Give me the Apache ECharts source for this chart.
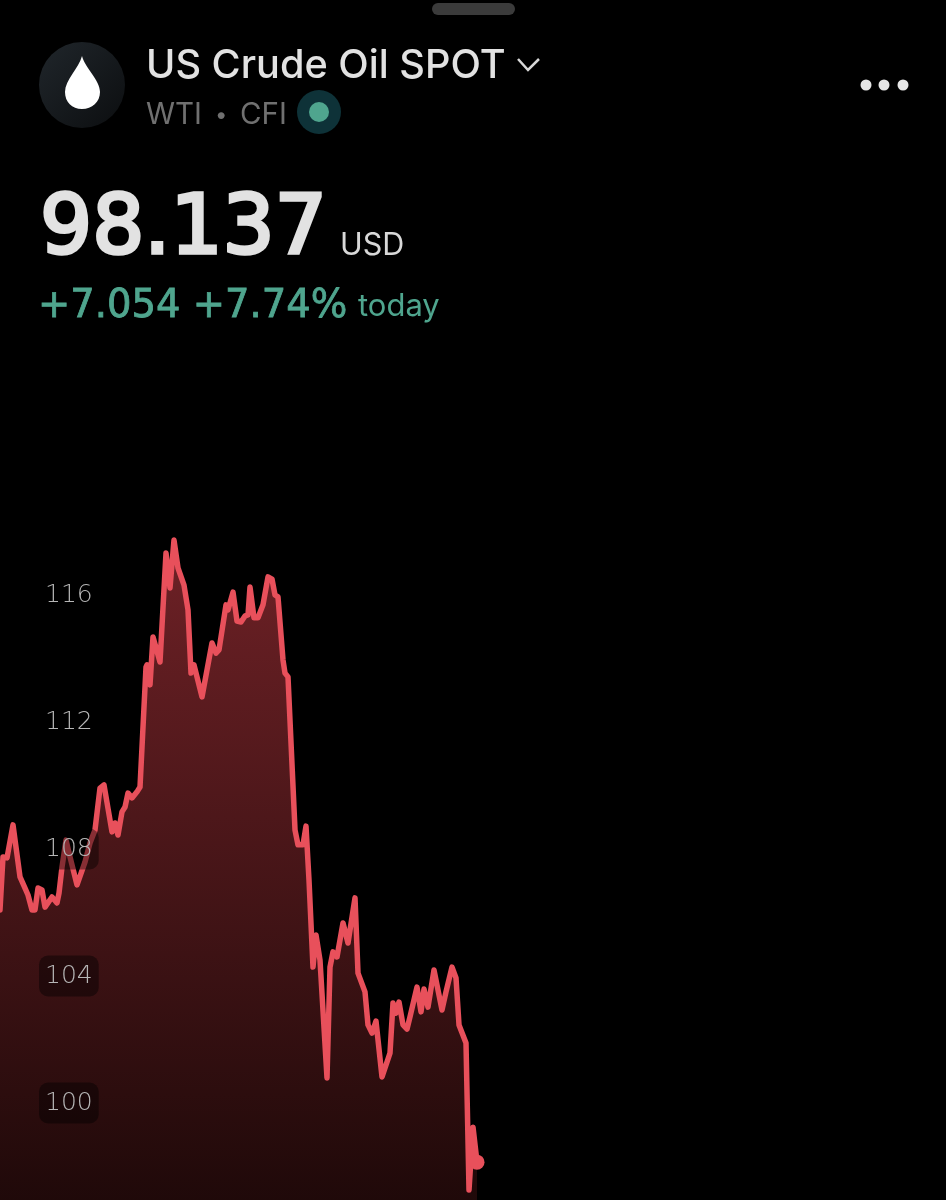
<!DOCTYPE html>
<html><head><meta charset="utf-8">
<style>html,body{margin:0;padding:0;background:#000}#c{width:946px;height:1200px}</style>
<script src="https://cdn.jsdelivr.net/npm/echarts@6/dist/echarts.min.js"></script>
</head><body><div id="c"></div>
<script>
const elapsed = [0,3,7,13,20,25,28,32,35,38,42,45,52,57,59,62,66,70,77,85,90,95,100,104,112,115,118,122,125,128,132,137,140,146,147,150,153,160,166,170,174,178,184,188,191,194,202,212,216,219,226,228,233,237,241,245,248,250,254,258,263,268,272,275,278,283,285,288,295,298,303,306,309,313,316,320,327,330,333,337,343,348,355,358,365,368,372,376,382,390,393,396,399,403,407,410,417,421,424,428,434,442,446,452,456,459,466,469,473,477];
const prices = [106.08,107.75,107.72,108.76,107.12,106.77,106.55,106.08,106.08,106.77,106.71,106.17,106.49,106.30,106.61,107.43,108.28,107.75,106.87,107.59,108.19,108.60,109.92,110.02,108.54,108.82,108.44,109.17,109.32,109.76,109.61,109.80,109.95,113.73,113.80,113.17,114.68,113.89,117.32,116.22,117.73,116.85,116.31,115.53,113.54,113.80,112.79,114.49,114.17,114.27,115.69,115.53,116.09,115.18,115.15,115.34,115.37,116.25,115.28,115.28,115.69,116.57,116.50,116.00,115.94,113.95,113.54,113.42,108.60,108.13,108.13,108.72,107.02,104.28,105.29,104.50,100.79,104.28,104.76,104.60,105.67,105.04,106.46,104.09,103.50,102.46,102.20,102.58,100.82,101.57,103.15,102.83,103.18,102.46,102.33,102.71,103.65,102.87,103.59,103.02,104.19,102.93,103.50,104.28,103.94,102.46,101.89,97.26,99.24,98.137];
const yTicks = [100,104,108,112,116];
const yMin = 96, yMax = 120, yStep = 4;
const instrument = "US Crude Oil SPOT";
const lastPrice = "98.137", currency = "USD", change = "+7.054 +7.74%", changeWhen = "today";

const lineColor = "#e8505b", green = "#4fa58e";
const font = "Inter, Roboto, sans-serif", numFont = '"DejaVu Sans", sans-serif';
const lastX = elapsed[elapsed.length-1], lastY = prices[prices.length-1];
echarts.graphic.registerShape('oilDrop', echarts.graphic.extendShape({
  shape:{},
  buildPath(ctx){
    ctx.moveTo(82,56);
    ctx.bezierCurveTo(85,68,100,80,100,92);
    ctx.bezierCurveTo(100,102,92,109,82,109);
    ctx.bezierCurveTo(72,109,65,102,65,92);
    ctx.bezierCurveTo(65,80,79,68,82,56);
    ctx.closePath();
  }
}));
const chart = echarts.init(document.getElementById('c'), null, {renderer:'canvas'});
const txt = (x,base,text,size,color,weight,family,stroke) => ({type:'text',x,y:base-size*0.85,z:20,style:{text,fontFamily:family||font,fontSize:size,fill:color,fontWeight:weight||400,stroke:stroke?color:'none',lineWidth:stroke||0}});
chart.setOption({
  backgroundColor:'#000',
  animation:false,
  grid:{left:0,right:0,top:468,height:762,containLabel:false,outerBoundsMode:'none'},
  xAxis:{type:'value',min:0,max:946,show:false},
  yAxis:{type:'value',min:yMin,max:yMax,interval:yStep,z:10,position:'left',
    axisLine:{show:false},axisTick:{show:false},splitLine:{show:false},
    axisLabel:{inside:true,margin:39,align:'left',customValues:yTicks,fontFamily:numFont,fontSize:25,fontWeight:200,color:'#b6b6b6',
      backgroundColor:'rgba(0,0,0,0.42)',borderRadius:9,padding:[10,6,6,6]}},
  series:[{type:'line',data:elapsed.map((x,i)=>[x,prices[i]]),showSymbol:false,symbol:'none',smooth:false,
    lineStyle:{color:lineColor,width:5.5,join:'round',cap:'round'},
    areaStyle:{color:{type:'linear',x:0,y:0,x2:0,y2:1,colorStops:[{offset:0,color:'#6e2126'},{offset:1,color:'#1c0808'}]},opacity:1},
    markLine:{silent:true,symbol:'none',label:{show:false},z:3,
      lineStyle:{color:'rgba(255,255,255,0.55)',type:[10,19],width:1.5},
      data:[[{coord:[0,lastY]},{coord:[lastX,lastY]}]]},
    markPoint:{silent:true,symbol:'circle',symbolSize:15,itemStyle:{color:lineColor},label:{show:false},
      data:[{coord:[lastX,lastY]}]}
  }],
  graphic:[
    {type:'rect',z:20,shape:{x:432,y:3,width:83,height:12,r:6},style:{fill:'#3b3b3b'}},
    {type:'circle',z:20,shape:{cx:82,cy:85,r:43},style:{fill:{type:'linear',x:0,y:0,x2:1,y2:1,colorStops:[{offset:0,color:'#20262b'},{offset:1,color:'#0c0e10'}]}}},
    {type:'oilDrop',z:21,shape:{},style:{fill:'#fff'}},
    txt(146,80,instrument,39.7,'#e2e2e2',500),
    {type:'polyline',z:20,shape:{points:[[518,59],[528,70],[539,59]]},style:{stroke:'#d8d8d8',lineWidth:2.5,fill:'none'}},
    txt(146,125,"WTI",29.5,'#707070',400),
    txt(215,123,"•",22,'#707070',400),
    txt(240,125,"CFI",29.5,'#707070',400),
    {type:'circle',z:20,shape:{cx:319,cy:112,r:22},style:{fill:'#0e3238'}},
    {type:'circle',z:21,shape:{cx:319,cy:112,r:10},style:{fill:green}},
    {type:'circle',z:20,shape:{cx:866,cy:85,r:5.5},style:{fill:'#e6e6e6'}},
    {type:'circle',z:20,shape:{cx:884,cy:85,r:5.5},style:{fill:'#e6e6e6'}},
    {type:'circle',z:20,shape:{cx:903,cy:85,r:5.5},style:{fill:'#e6e6e6'}},
    txt(40,260,lastPrice,82,'#e2e2e2',400,numFont,3.5),
    txt(340,256,currency,30.5,'#d8d8d8',400),
    txt(38,320,change,38.5,green,400,numFont,0.8),
    txt(358,318,changeWhen,31,green,400)
  ]
});
</script></body></html>
